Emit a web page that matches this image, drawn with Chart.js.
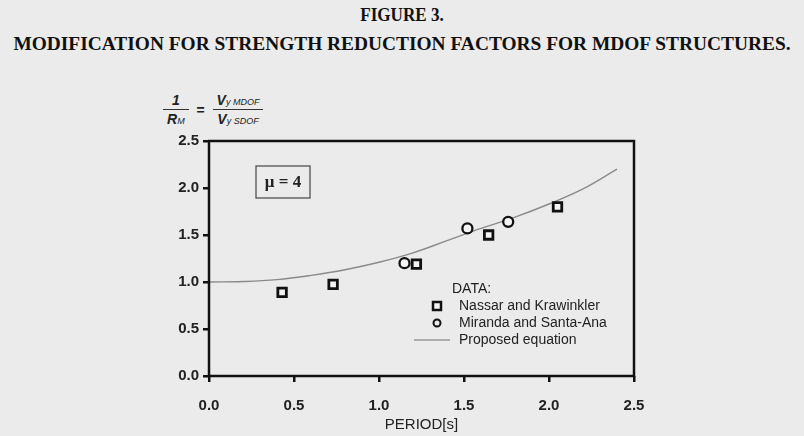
<!DOCTYPE html>
<html>
<head>
<meta charset="utf-8">
<script src="https://cdn.jsdelivr.net/npm/chart.js@4/dist/chart.umd.min.js"></script>
<style>
  html, body { margin:0; padding:0; background:#ebebeb; }
  #wrap { position:relative; width:804px; height:436px; overflow:hidden; background:#ebebeb; }
  canvas { position:absolute; left:0; top:0; }
  .t1 { position:absolute; left:0; width:804px; top:5px; text-align:center; font-family:"Liberation Serif","Times New Roman",serif; font-weight:bold; font-size:18px; color:#111; transform:scaleX(0.95); }
  .t2 { position:absolute; left:0; width:804px; top:33px; text-align:center; font-family:"Liberation Serif","Times New Roman",serif; font-weight:bold; font-size:19.4px; color:#111; white-space:nowrap; }
  .frac { position:absolute; font-family:"Liberation Sans",Arial,sans-serif; font-style:italic; color:#222; }
  .fr { display:inline-block; vertical-align:middle; text-align:center; }
  .fr .n { display:block; border-bottom:1px solid #333; padding:0 4px 1px; }
  .fr .d { display:block; padding:1px 4px 0; }
  .sub { font-size:9px; font-weight:normal; }
</style>
</head>
<body>
<div id="wrap">
  <div class="t1">FIGURE 3.</div>
  <div class="t2">MODIFICATION FOR STRENGTH REDUCTION FACTORS FOR MDOF STRUCTURES.</div>
  <div class="frac" style="left:163px; top:92px; font-size:14px; font-weight:bold;">
    <span class="fr"><span class="n">1</span><span class="d">R<span class="sub">M</span></span></span>
    <span style="font-style:normal; margin:0 4px; vertical-align:middle;">=</span>
    <span class="fr"><span class="n">V<span class="sub">y MDOF</span></span><span class="d">V<span class="sub">y SDOF</span></span></span>
  </div>
  <canvas id="c" width="804" height="436"></canvas>
</div>
<script>
// ---- data ----
const nassarT   = [0.43, 0.73, 1.22, 1.645, 2.05];
const nassarR   = [0.89, 0.975, 1.19, 1.50, 1.80];
const mirandaT  = [1.15, 1.52, 1.76];
const mirandaR  = [1.20, 1.57, 1.64];
const curveT    = [0, 0.2, 0.4, 0.6, 0.8, 1.0, 1.2, 1.4, 1.6, 1.8, 2.0, 2.2, 2.4];
const curveR    = [1.0, 1.005, 1.025, 1.07, 1.13, 1.21, 1.31, 1.44, 1.57, 1.69, 1.83, 1.99, 2.2];
const xTicks    = [0.0, 0.5, 1.0, 1.5, 2.0, 2.5];
const yTicks    = [0.0, 0.5, 1.0, 1.5, 2.0, 2.5];
const seriesNames = ["Nassar and Krawinkler", "Miranda and Santa-Ana", "Proposed equation"];
const legendTitle = "DATA:";
const muLabel = "\u03BC = 4";
const xTitle = "PERIOD[s]";

const zip = (a, b) => a.map((v, i) => ({x: v, y: b[i]}));

const decor = {
  id: 'decor',
  afterDraw(chart) {
    const {ctx, chartArea: a} = chart;
    ctx.save();
    // plot box
    ctx.strokeStyle = '#111';
    ctx.lineWidth = 2.5;
    ctx.strokeRect(a.left, a.top, a.right - a.left, a.bottom - a.top);
    // mu box
    ctx.lineWidth = 1.2;
    ctx.strokeStyle = '#444';
    ctx.strokeRect(a.left + 47, a.top + 25, 54, 32);
    ctx.fillStyle = '#222';
    ctx.font = 'bold 17px "Liberation Serif", serif';
    ctx.textAlign = 'center';
    ctx.textBaseline = 'middle';
    ctx.fillText(muLabel, a.left + 74, a.top + 42);
    // legend
    ctx.textAlign = 'left';
    ctx.font = '14px "Liberation Sans", Arial, sans-serif';
    ctx.fillStyle = '#222';
    const lx = a.left + 219, ly = a.top + 148;
    ctx.fillText(legendTitle, lx + 24, ly);
    ctx.fillText(seriesNames[0], lx + 31, ly + 17);
    ctx.fillText(seriesNames[1], lx + 31, ly + 34);
    ctx.fillText(seriesNames[2], lx + 31, ly + 51);
    ctx.strokeStyle = '#111';
    ctx.lineWidth = 2.5;
    ctx.fillStyle = '#f4f4f4';
    ctx.fillRect(lx + 5, ly + 13, 8, 8);
    ctx.strokeRect(lx + 5, ly + 13, 8, 8);
    ctx.lineWidth = 2;
    ctx.beginPath(); ctx.arc(lx + 9, ly + 34, 3.5, 0, Math.PI * 2); ctx.stroke();
    ctx.strokeStyle = '#999';
    ctx.lineWidth = 1.3;
    ctx.beginPath(); ctx.moveTo(lx - 14, ly + 51); ctx.lineTo(lx + 22, ly + 51); ctx.stroke();
    ctx.restore();
  }
};

new Chart(document.getElementById('c'), {
  type: 'scatter',
  data: {
    datasets: [
      { label: seriesNames[2], type: 'line', data: zip(curveT, curveR), borderColor: '#8a8a8a', borderWidth: 1.4, pointRadius: 0, tension: 0.4, fill: false, order: 3 },
      { label: seriesNames[0], data: zip(nassarT, nassarR), pointStyle: 'rect', pointRadius: 6, borderColor: '#111', borderWidth: 2.8, backgroundColor: '#f4f4f4', order: 1 },
      { label: seriesNames[1], data: zip(mirandaT, mirandaR), pointStyle: 'circle', pointRadius: 5, borderColor: '#111', borderWidth: 2.3, backgroundColor: '#f4f4f4', order: 2 }
    ]
  },
  options: {
    responsive: false,
    animation: false,
    devicePixelRatio: 1,
    layout: { padding: { left: 140, right: 170, top: 141, bottom: 2 } },
    plugins: { legend: { display: false }, tooltip: { enabled: false } },
    scales: {
      x: {
        type: 'linear', min: 0, max: 2.5,
        afterBuildTicks: s => { s.ticks = xTicks.map(v => ({value: v})); },
        afterFit: s => { s.height = 58; },
        border: { display: false },
        grid: { drawOnChartArea: false, drawTicks: true, tickLength: 6, color: '#111', lineWidth: 2.5 },
        ticks: { color: '#222', font: { family: '"Liberation Sans", Arial, sans-serif', size: 15, weight: 'bold' }, padding: 15, callback: v => v.toFixed(1), maxRotation: 0 },
        title: { display: true, text: xTitle, color: '#222', font: { family: '"Liberation Sans", Arial, sans-serif', size: 15 }, padding: { top: -7, bottom: 0 } }
      },
      y: {
        type: 'linear', min: 0, max: 2.5,
        afterBuildTicks: s => { s.ticks = yTicks.map(v => ({value: v})); },
        afterFit: s => { s.width = 69; },
        border: { display: false },
        grid: { drawOnChartArea: false, drawTicks: true, tickLength: 6, color: '#111', lineWidth: 2.5 },
        ticks: { color: '#222', font: { family: '"Liberation Sans", Arial, sans-serif', size: 15, weight: 'bold' }, padding: 4, callback: v => v.toFixed(1) }
      }
    }
  },
  plugins: [decor]
});
</script>
</body>
</html>
